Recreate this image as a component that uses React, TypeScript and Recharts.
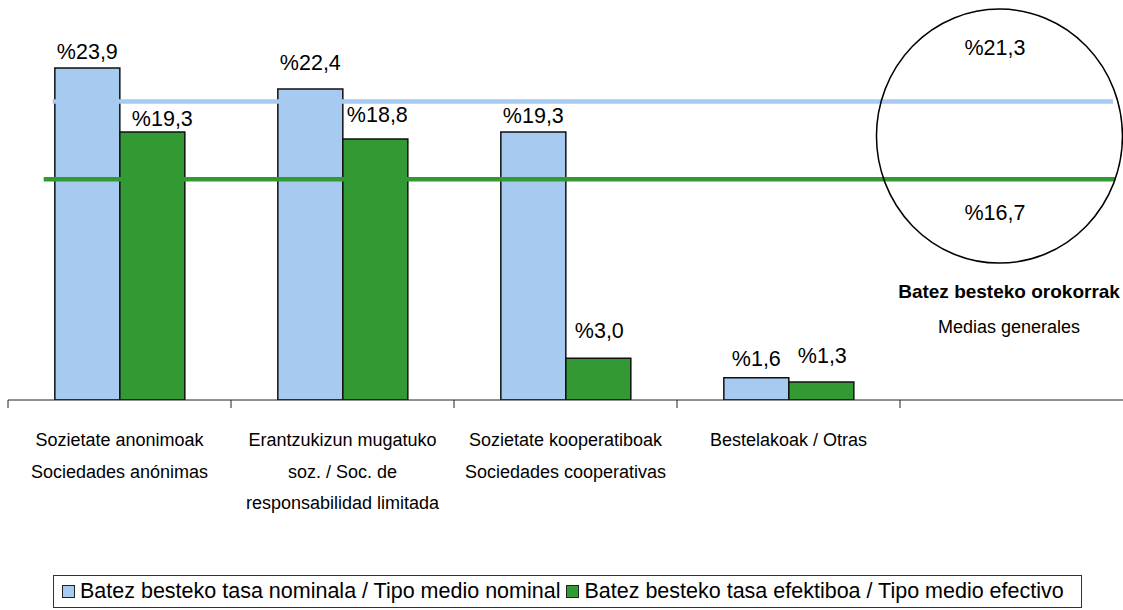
import React from "react";
import { BarChart, Bar, XAxis, YAxis, ReferenceLine, ReferenceDot, LabelList } from "recharts";

const categories: string[][] = [
  ["Sozietate anonimoak", "Sociedades anónimas"],
  ["Erantzukizun mugatuko", "soz. / Soc. de", "responsabilidad limitada"],
  ["Sozietate kooperatiboak", "Sociedades cooperativas"],
  ["Bestelakoak / Otras"],
  [],
];
const nominal = [23.9, 22.4, 19.3, 1.6, null];
const efectivo = [19.3, 18.8, 3.0, 1.3, null];
const seriesNames = [
  "Batez besteko tasa nominala / Tipo medio nominal",
  "Batez besteko tasa efektiboa / Tipo medio efectivo",
];
// general averages (labels) and where their lines sit in the picture
const averages = [21.3, 16.7];
const averageLines = [21.5, 15.9];
const summaryTitle = "Batez besteko orokorrak";
const summarySub = "Medias generales";

// label placement quirks of the original (px above bar, px to the right)
const nominalLabelGap = [9, 19, 9, 12, 0];
const efectivoLabelGap = [6, 17, 20, 19, 0];
const efectivoLabelShift = [10, 2, 1, 1, 0];

const BLUE = "#a6caf0";
const GREEN = "#339933";
const FONT = "'Liberation Sans', Arial, sans-serif";

const data = categories.map((_, i) => ({
  key: String(i),
  pos: i + 0.5,
  nominal: nominal[i],
  efectivo: efectivo[i],
}));

const pct = (v: number) => "%" + v.toFixed(1).replace(".", ",");

const CategoryTick = (props: any) => {
  const { x, y, payload } = props;
  const lines = categories[Number(payload.value)] || [];
  const left = x - (payload.offset || 0);
  return (
    <g>
      <line x1={left} x2={left} y1={y - 8} y2={y} stroke="#222" strokeWidth={1} />
      <text x={x} y={y + 38} textAnchor="middle" fontSize={18} fontFamily={FONT} fill="#000">
        {lines.map((l, i) => (
          <tspan key={i} x={x} dy={i === 0 ? 0 : 31.5}>
            {l}
          </tspan>
        ))}
      </text>
    </g>
  );
};

const makeLabel = (gaps: number[], shifts?: number[]) => (props: any) => {
  const { x, y, width, value, index } = props;
  if (value == null) return null;
  return (
    <text
      x={x + width / 2 + (shifts ? shifts[index] : 0)}
      y={y - gaps[index]}
      textAnchor="middle"
      fontSize={21.5}
      fontFamily={FONT}
      fill="#000"
    >
      {pct(value)}
    </text>
  );
};
const NominalLabel = makeLabel(nominalLabelGap);
const EfectivoLabel = makeLabel(efectivoLabelGap, efectivoLabelShift);

const LegendBox = () => (
  <div
    style={{
      position: "absolute",
      left: 53,
      top: 575,
      width: 1029,
      height: 33,
      boxSizing: "border-box",
      border: "1px solid #333",
      display: "flex",
      alignItems: "center",
      fontFamily: FONT,
      fontSize: 21.5,
      color: "#000",
      whiteSpace: "nowrap",
    }}
  >
    {seriesNames.map((n, i) => (
      <span key={n} style={{ display: "flex", alignItems: "center", marginLeft: i === 0 ? 8 : 6 }}>
        <span
          style={{
            display: "inline-block",
            width: 11,
            height: 11,
            background: i === 0 ? BLUE : GREEN,
            border: "1.5px solid #222",
            marginRight: 5,
          }}
        />
        {n}
      </span>
    ))}
  </div>
);

const Ellipse = (p: any) => (
  <ellipse cx={p.cx} cy={p.cy} rx={123} ry={127} fill="none" stroke="#000" strokeWidth={1.5} />
);

const textDot = { r: 1, fill: "none", stroke: "none", xAxisId: "num", ifOverflow: "visible" as const };

export default function App() {
  return (
    <div style={{ position: "absolute", left: 0, top: 0, width: 1123, height: 610, background: "#fff" }}>
      <BarChart
        width={1123}
        height={610}
        data={data}
        margin={{ top: 0, right: 0, bottom: 0, left: 8 }}
        barCategoryGap="21%"
        barGap={0}
      >
        <XAxis
          dataKey="key"
          height={210}
          axisLine={{ stroke: "#222", strokeWidth: 1 }}
          tickLine={false}
          tickSize={8}
          tickMargin={0}
          interval={0}
          tick={<CategoryTick />}
        />
        <XAxis xAxisId="num" dataKey="pos" type="number" domain={[0, 5]} allowDataOverflow hide />
        <YAxis hide domain={[0, 28.8]} allowDataOverflow />
        <Bar dataKey="nominal" fill={BLUE} stroke="#111" strokeWidth={1.5} isAnimationActive={false}>
          <LabelList dataKey="nominal" content={NominalLabel} />
        </Bar>
        <Bar dataKey="efectivo" fill={GREEN} stroke="#111" strokeWidth={1.5} isAnimationActive={false}>
          <LabelList dataKey="efectivo" content={EfectivoLabel} />
        </Bar>
        <ReferenceLine
          xAxisId="num"
          ifOverflow="visible"
          segment={[
            { x: 0.2, y: averageLines[0] },
            { x: 4.955, y: averageLines[0] },
          ]}
          stroke={BLUE}
          strokeWidth={4.5}
        />
        <ReferenceLine
          xAxisId="num"
          ifOverflow="visible"
          segment={[
            { x: 0.16, y: averageLines[1] },
            { x: 4.965, y: averageLines[1] },
          ]}
          stroke={GREEN}
          strokeWidth={4.5}
        />
        <ReferenceDot xAxisId="num" ifOverflow="visible" x={4.446} y={19.0} r={127} shape={Ellipse} />
        <ReferenceDot
          {...textDot}
          x={4.426}
          y={25.4}
          label={{ value: pct(averages[0]), position: "center", fontSize: 21.5, fill: "#000", fontFamily: FONT }}
        />
        <ReferenceDot
          {...textDot}
          x={4.426}
          y={13.5}
          label={{ value: pct(averages[1]), position: "center", fontSize: 21.5, fill: "#000", fontFamily: FONT }}
        />
        <ReferenceDot
          {...textDot}
          x={4.489}
          y={7.8}
          label={{ value: summaryTitle, position: "center", fontSize: 19, fontWeight: "bold", fill: "#000", fontFamily: FONT }}
        />
        <ReferenceDot
          {...textDot}
          x={4.489}
          y={5.3}
          label={{ value: summarySub, position: "center", fontSize: 18, fill: "#000", fontFamily: FONT }}
        />
      </BarChart>
      <LegendBox />
    </div>
  );
}
